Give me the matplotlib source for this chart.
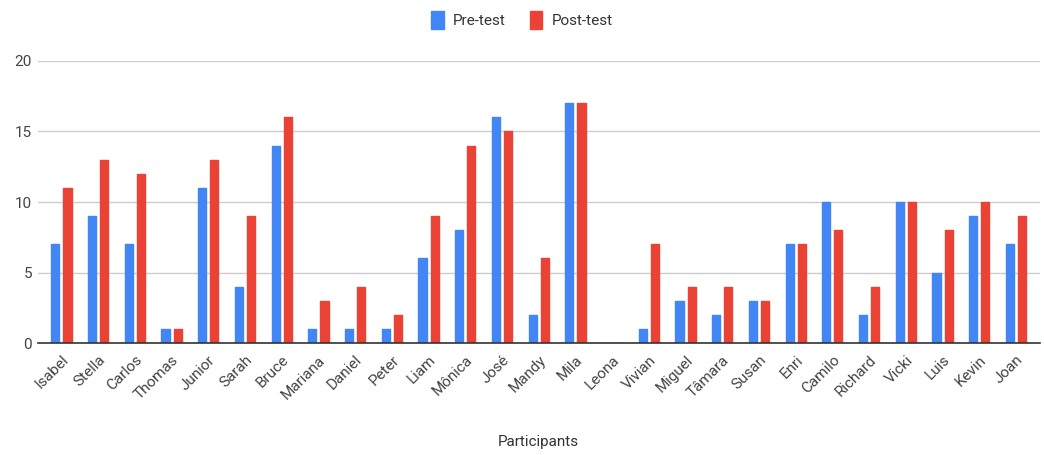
import numpy as np
import matplotlib
matplotlib.use("Agg")
import matplotlib.pyplot as plt
from matplotlib.patches import Patch

participants = ["Isabel", "Stella", "Carlos", "Thomas", "Junior", "Sarah", "Bruce",
                "Mariana", "Daniel", "Peter", "Liam", "Mônica", "José", "Mandy",
                "Mila", "Leona", "Vivian", "Miguel", "Tâmara", "Susan", "Enri",
                "Camilo", "Richard", "Vicki", "Luis", "Kevin", "Joan"]
pre_test = [7, 9, 7, 1, 11, 4, 14, 1, 1, 1, 6, 8, 16, 2, 17, 0, 1, 3, 2, 3, 7, 10, 2, 10, 5, 9, 7]
post_test = [11, 13, 12, 1, 13, 9, 16, 3, 4, 2, 9, 14, 15, 6, 17, 0, 7, 4, 4, 3, 7, 8, 4, 10, 8, 10, 9]

BLUE = "#4285F4"
RED = "#EA4335"

plt.rcParams["font.family"] = ["Roboto", "DejaVu Sans"]

fig = plt.figure(figsize=(10.44, 4.55), dpi=100)
ax = fig.add_axes([0.036, 0.246, 0.96, 0.62])

x = np.arange(len(participants))
w = 0.22
off = 0.165
ax.bar(x - off, pre_test, w, color=BLUE, edgecolor=BLUE, linewidth=1.0,
       joinstyle="round", zorder=3)
ax.bar(x + off, post_test, w, color=RED, edgecolor=RED, linewidth=1.0,
       joinstyle="round", zorder=3)

ax.set_xlim(-0.65, len(participants) - 0.35)
ax.set_ylim(0, 20)
ax.set_yticks([0, 5, 10, 15, 20])
ax.yaxis.grid(True, color="#cccccc", linewidth=1, zorder=0)
ax.set_axisbelow(True)

for side in ("top", "right", "left"):
    ax.spines[side].set_visible(False)
ax.spines["bottom"].set_color("#333333")
ax.spines["bottom"].set_linewidth(1.2)
ax.spines["bottom"].set_zorder(4)

ax.set_xticks(x)
ax.set_xticklabels(participants, rotation=45, ha="right", rotation_mode="anchor",
                   fontsize=11, color="#444444")
ax.tick_params(axis="x", length=0, pad=7)
ax.tick_params(axis="y", length=0, pad=4, labelsize=11, labelcolor="#444444")

ax.set_xlabel("Participants", fontsize=11, color="#333333", labelpad=24)

handles = [Patch(color=BLUE, label="Pre-test"), Patch(color=RED, label="Post-test")]
fig.legend(handles=handles, loc="upper center", bbox_to_anchor=(0.5, 1.005), ncol=2,
           frameon=False, fontsize=11, handlelength=0.8, handleheight=1.4,
           handletextpad=0.6, columnspacing=1.6, labelcolor="#333333")

fig.savefig("out.png", dpi=100)
plt.close(fig)
